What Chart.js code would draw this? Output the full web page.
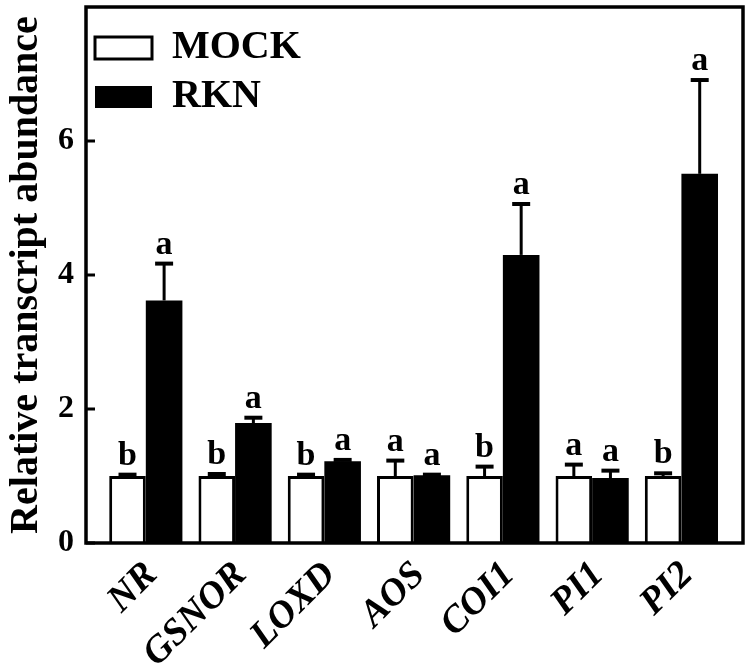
<!DOCTYPE html>
<html>
<head>
<meta charset="utf-8">
<script src="https://cdn.jsdelivr.net/npm/chart.js@4.4.1/dist/chart.umd.min.js"></script>
<style>
html, body { margin: 0; padding: 0; background: #fff; }
#wrap { width: 750px; height: 665px; position: relative; }
</style>
</head>
<body>
<div id="wrap"><canvas id="c"></canvas></div>
<script>
// data
const genes = ['NR', 'GSNOR', 'LOXD', 'AOS', 'COI1', 'PI1', 'PI2'];
const mockMeans = [1.0, 1.0, 1.0, 1.0, 1.0, 1.0, 1.0];
const mockErr = [0.02, 0.03, 0.02, 0.23, 0.14, 0.17, 0.04];
const rknMeans = [3.62, 1.79, 1.22, 1.01, 4.30, 0.97, 5.51];
const rknErr = [0.55, 0.08, 0.02, 0.01, 0.76, 0.11, 1.40];
const mockLetters = ['b', 'b', 'b', 'a', 'b', 'a', 'b'];
const rknLetters = ['a', 'a', 'a', 'a', 'a', 'a', 'a'];
const yTicks = [0, 2, 4, 6];

const SERIF = '"Liberation Serif", "Times New Roman", serif';

// error bars, significance letters, frame and inward ticks
const extras = {
    id: 'extras',
    afterDatasetsDraw(chart) {
        const { ctx, chartArea: a, scales: { y } } = chart;
        const sets = [[mockErr, mockLetters], [rknErr, rknLetters]];
        ctx.save();
        ctx.strokeStyle = '#000';
        ctx.fillStyle = '#000';
        ctx.font = 'bold 34px ' + SERIF;
        ctx.textAlign = 'center';
        ctx.textBaseline = 'alphabetic';
        sets.forEach(([errs, letters], d) => {
            chart.getDatasetMeta(d).data.forEach((bar, i) => {
                const v = chart.data.datasets[d].data[i].y;
                const yTop = y.getPixelForValue(v + errs[i]);
                ctx.lineWidth = 3;
                ctx.beginPath();
                ctx.moveTo(bar.x, bar.y);
                ctx.lineTo(bar.x, yTop);
                ctx.stroke();
                ctx.lineWidth = 4;
                ctx.beginPath();
                ctx.moveTo(bar.x - 9, yTop);
                ctx.lineTo(bar.x + 9, yTop);
                ctx.stroke();
                ctx.fillText(letters[i], bar.x, yTop - 10);
            });
        });
        ctx.lineWidth = 3.5;
        ctx.strokeRect(a.left, a.top, a.width, a.height);
        ctx.lineWidth = 3;
        yTicks.forEach(t => {
            const py = y.getPixelForValue(t);
            ctx.beginPath();
            ctx.moveTo(a.left, py);
            ctx.lineTo(a.left + 9, py);
            ctx.stroke();
        });
        ctx.restore();
    }
};

new Chart(document.getElementById('c'), {
    type: 'bar',
    data: {
        datasets: [
            {
                label: 'MOCK',
                data: mockMeans.map((v, i) => ({ x: i + 1, y: v })),
                backgroundColor: '#fff',
                borderColor: '#000',
                borderWidth: 3
            },
            {
                label: 'RKN',
                data: rknMeans.map((v, i) => ({ x: i + 1, y: v })),
                backgroundColor: '#000',
                borderColor: '#000',
                borderWidth: 0
            }
        ]
    },
    options: {
        responsive: true,
        maintainAspectRatio: false,
        animation: false,
        categoryPercentage: 0.82,
        barPercentage: 1.0,
        layout: { padding: { top: 7, right: 7, left: 0, bottom: 0 } },
        plugins: {
            legend: {
                position: 'chartArea',
                align: 'start',
                // empty title only pushes the entries down
                title: { display: true, text: '', padding: { top: 0, bottom: 7 }, font: { size: 10 } },
                labels: {
                    color: '#000',
                    boxWidth: 57,
                    boxHeight: 22,
                    padding: 9,
                    font: { family: SERIF, size: 40, weight: 'bold' }
                }
            },
            tooltip: { enabled: false }
        },
        scales: {
            x: {
                type: 'linear',
                min: 0.33,
                max: 7.69,
                offset: false,
                grid: { display: false },
                border: { display: false },
                afterBuildTicks: s => { s.ticks = genes.map((g, i) => ({ value: i + 1 })); },
                afterFit: s => {
                    s.height = 122;
                    s.paddingLeft = 0;
                    s.paddingRight = 0;
                },
                ticks: {
                    autoSkip: false,
                    minRotation: 45,
                    maxRotation: 45,
                    padding: 2,
                    labelOffset: 6,
                    color: '#000',
                    font: { family: SERIF, size: 38, weight: 'bold', style: 'italic' },
                    callback: v => genes[v - 1]
                }
            },
            y: {
                min: 0,
                max: 8,
                grid: { display: false, drawTicks: false },
                border: { display: false },
                afterBuildTicks: s => { s.ticks = yTicks.map(v => ({ value: v })); },
                afterFit: s => {
                    s.width = 86;
                    s.paddingTop = 0;
                    s.paddingBottom = 0;
                },
                ticks: {
                    padding: 12,
                    color: '#000',
                    font: { family: SERIF, size: 32, weight: 'bold' }
                },
                title: {
                    display: true,
                    text: 'Relative transcript abundance',
                    color: '#000',
                    padding: { top: 3, bottom: 0 },
                    font: { family: SERIF, size: 40, weight: 'bold' }
                }
            }
        }
    },
    plugins: [extras]
});
</script>
</body>
</html>
